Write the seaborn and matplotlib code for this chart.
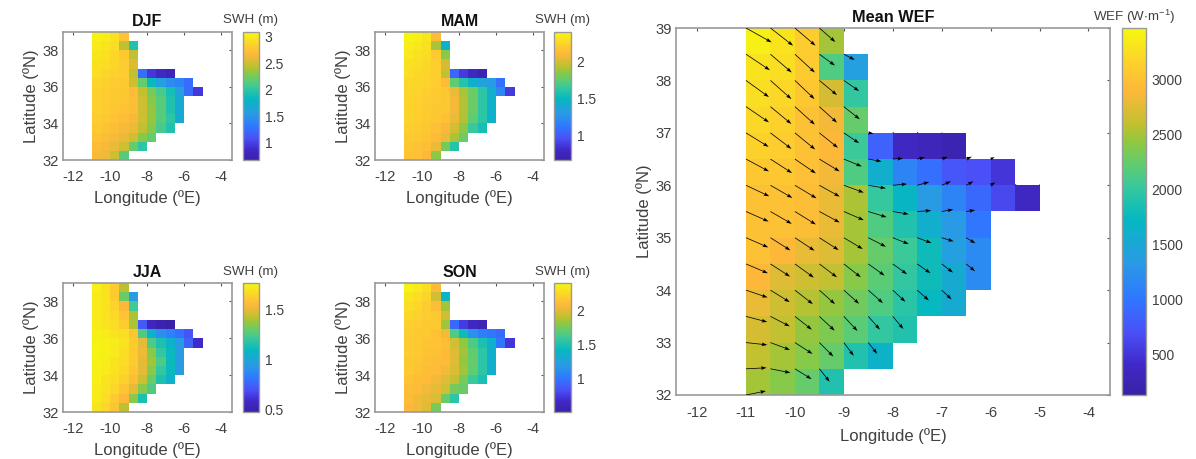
import matplotlib
matplotlib.use("Agg")
import matplotlib.pyplot as plt
import numpy as np
import seaborn as sns
from matplotlib.colors import LinearSegmentedColormap

FIG_W, FIG_H = 1196, 459
GRAY = "#9a9a9a"
TEXT = "#404040"

# rows run north to south (39N first), columns west to east from 11W, 0.5 deg cells
DJF = [
    [3.05, 3.03, 2.95, 2.75],
    [3.0, 2.98, 2.92, 2.45, 1.95],
    [2.98, 2.95, 2.9, 2.8, 2.45],
    [2.95, 2.92, 2.88, 2.82, 2.55],
    [2.92, 2.88, 2.85, 2.82, 2.45, 1.25, 0.95, 0.85, 0.78],
    [2.88, 2.85, 2.82, 2.8, 2.5, 2.2, 1.85, 1.6, 1.45, 1.4, 1.25],
    [2.85, 2.82, 2.8, 2.78, 2.7, 2.45, 2.25, 2.1, 1.9, 1.6, 1.25, 0.95],
    [2.85, 2.82, 2.8, 2.78, 2.72, 2.5, 2.3, 2.15, 1.95, 1.7],
    [2.85, 2.82, 2.78, 2.75, 2.72, 2.5, 2.35, 2.15, 1.95, 1.7],
    [2.82, 2.8, 2.75, 2.72, 2.65, 2.5, 2.35, 2.15, 2.0, 1.7],
    [2.8, 2.75, 2.72, 2.65, 2.6, 2.45, 2.3, 2.1, 1.95],
    [2.75, 2.72, 2.65, 2.6, 2.5, 2.3, 2.2],
    [2.7, 2.65, 2.6, 2.5, 2.2, 2.0],
    [2.65, 2.62, 2.5, 2.15],
]
MAM = [
    [2.38, 2.36, 2.32, 2.12],
    [2.35, 2.33, 2.3, 1.9, 1.45],
    [2.33, 2.3, 2.28, 2.2, 1.85],
    [2.3, 2.28, 2.26, 2.22, 2.0],
    [2.28, 2.26, 2.25, 2.22, 1.95, 1.05, 0.88, 0.78, 0.72],
    [2.26, 2.25, 2.24, 2.22, 2.12, 1.75, 1.6, 1.45, 1.35, 1.3, 1.1],
    [2.25, 2.24, 2.22, 2.2, 2.18, 2.05, 1.9, 1.78, 1.62, 1.42, 1.2, 0.88],
    [2.25, 2.23, 2.21, 2.2, 2.18, 2.08, 1.92, 1.78, 1.62, 1.45],
    [2.24, 2.22, 2.2, 2.18, 2.18, 2.08, 1.92, 1.78, 1.62, 1.45],
    [2.24, 2.22, 2.2, 2.18, 2.15, 2.05, 1.92, 1.75, 1.62, 1.45],
    [2.22, 2.2, 2.18, 2.15, 2.1, 2.0, 1.85, 1.65, 1.55],
    [2.2, 2.18, 2.16, 2.12, 2.05, 1.9, 1.78],
    [2.18, 2.16, 2.14, 2.05, 1.8, 1.6],
    [2.16, 2.15, 2.1, 1.85],
]
JJA = [
    [1.74, 1.7, 1.62, 1.42],
    [1.72, 1.7, 1.62, 1.3, 0.95],
    [1.72, 1.7, 1.65, 1.55, 1.22],
    [1.72, 1.7, 1.67, 1.6, 1.4],
    [1.72, 1.7, 1.68, 1.63, 1.4, 0.72, 0.55, 0.5, 0.48],
    [1.74, 1.72, 1.7, 1.68, 1.6, 1.25, 1.05, 0.9, 0.85, 0.8, 0.7],
    [1.75, 1.74, 1.72, 1.7, 1.62, 1.5, 1.25, 1.15, 1.05, 0.95, 0.75, 0.58],
    [1.75, 1.74, 1.72, 1.68, 1.62, 1.52, 1.35, 1.2, 1.1, 0.95],
    [1.75, 1.73, 1.7, 1.68, 1.62, 1.5, 1.38, 1.25, 1.1, 0.95],
    [1.74, 1.72, 1.7, 1.66, 1.6, 1.5, 1.35, 1.2, 1.1, 0.95],
    [1.74, 1.7, 1.68, 1.64, 1.57, 1.45, 1.3, 1.15, 1.05],
    [1.72, 1.7, 1.66, 1.6, 1.5, 1.35, 1.25],
    [1.72, 1.68, 1.62, 1.55, 1.35, 1.15],
    [1.7, 1.66, 1.6, 1.42],
]
SON = [
    [2.38, 2.34, 2.28, 2.1],
    [2.32, 2.28, 2.24, 1.95, 1.4],
    [2.28, 2.25, 2.2, 2.12, 1.85],
    [2.25, 2.22, 2.2, 2.18, 1.95],
    [2.22, 2.2, 2.18, 2.18, 1.85, 0.95, 0.75, 0.65, 0.58],
    [2.2, 2.18, 2.18, 2.15, 2.05, 1.65, 1.45, 1.15, 1.05, 1.0, 0.95],
    [2.2, 2.18, 2.16, 2.15, 2.12, 1.95, 1.82, 1.65, 1.5, 1.35, 1.0, 0.72],
    [2.2, 2.18, 2.15, 2.14, 2.1, 2.0, 1.85, 1.7, 1.55, 1.35],
    [2.18, 2.16, 2.14, 2.12, 2.1, 2.0, 1.82, 1.72, 1.55, 1.35],
    [2.18, 2.15, 2.12, 2.1, 2.05, 1.98, 1.85, 1.7, 1.55, 1.35],
    [2.15, 2.12, 2.1, 2.05, 2.0, 1.92, 1.75, 1.6, 1.5],
    [2.12, 2.1, 2.05, 2.02, 1.95, 1.75, 1.72],
    [2.1, 2.05, 2.02, 1.98, 1.72, 1.55],
    [2.08, 2.05, 2.0, 1.75],
]
WEF = [
    [3400, 3300, 3100, 2500],
    [3300, 3250, 3080, 2150, 1400],
    [3250, 3200, 3050, 2700, 2000],
    [3200, 3150, 3000, 2850, 2250],
    [3150, 3100, 3000, 2900, 2050, 850, 350, 300, 230],
    [3050, 3050, 2980, 2850, 2150, 1600, 1150, 950, 750, 700, 500],
    [3000, 3000, 2950, 2800, 2520, 2020, 1700, 1350, 1150, 900, 650, 350],
    [3000, 2990, 2950, 2800, 2500, 2150, 1900, 1600, 1350, 1000],
    [3000, 2900, 2800, 2750, 2500, 2250, 2050, 1800, 1400, 1200],
    [2900, 2750, 2650, 2600, 2400, 2200, 2000, 1800, 1550, 1200],
    [2800, 2650, 2550, 2450, 2300, 2150, 1950, 1750, 1550],
    [2700, 2600, 2450, 2350, 2200, 2000, 1900],
    [2600, 2500, 2400, 2250, 1900, 1650],
    [2500, 2400, 2250, 1900],
]

# arrow components on the grid nodes, 39N first, from 11W
WEF_U = [
    [77, 68, 62, 48],
    [72, 64, 60, 47, 33],
    [69, 63, 59, 53, 46],
    [69, 63, 60, 53, 48],
    [68, 63, 61, 56, 46, 16, 4, 4, 2],
    [69, 65, 63, 61, 54, 40, 31, 23, 18, 17, 12, 1, 1],
    [70, 66, 65, 61, 60, 53, 43, 36, 28, 22, 14, 4, 1],
    [68, 64, 63, 61, 60, 55, 48, 42, 35, 27],
    [67, 60, 59, 58, 57, 53, 48, 43, 36, 28],
    [66, 59, 57, 53, 51, 49, 43, 40, 34, 27],
    [65, 58, 54, 47, 46, 44, 38, 35, 30],
    [64, 58, 51, 46, 41, 35, 32],
    [64, 59, 53, 42, 30, 27],
    [62, 60, 50, 31],
    [60],
]
WEF_V = [
    [-43, -53, -53, -42],
    [-48, -55, -55, -34, -17],
    [-50, -56, -56, -44, -32],
    [-47, -52, -54, -48, -38],
    [-42, -48, -50, -45, -31, -2, 3, 3, 3],
    [-37, -42, -43, -37, -22, -7, 2, 5, 7, 7, 6, 0, 0],
    [-33, -38, -39, -34, -22, -9, 4, 10, 12, 12, 9, 4, 4],
    [-30, -37, -39, -33, -26, -17, -8, 3, 6, 4],
    [-29, -38, -39, -37, -34, -27, -19, -16, -11, -17],
    [-28, -38, -41, -40, -40, -35, -31, -28, -26, -22],
    [-22, -36, -42, -42, -41, -39, -35, -31, -28],
    [-17, -30, -40, -43, -44, -40, -38],
    [-7, -22, -34, -42, -40, -34],
    [3, -12, -31, -39],
    [12],
]

# parula-like colours
CMAP_STOPS = [
    (0.0, "#3a22a6"), (0.08, "#4028c8"), (0.17, "#4a50f8"), (0.264, "#2f78ff"),
    (0.36, "#2a9ae5"), (0.48, "#05b8c0"), (0.564, "#35c8a0"), (0.627, "#60cc70"),
    (0.69, "#90c840"), (0.736, "#c0c030"), (0.83, "#fdb83a"), (0.90, "#fdcf2e"),
    (1.0, "#f5f810"),
]

# name, rows, colour range, colourbar ticks, tick labels, panel box in pixels
PANELS = [
    ("DJF", DJF, 0.67, 3.09, [1, 1.5, 2, 2.5, 3], ["1", "1.5", "2", "2.5", "3"], (63, 32, 232, 160), (243, 259)),
    ("MAM", MAM, 0.67, 2.40, [1, 1.5, 2], ["1", "1.5", "2"], (375, 32, 544, 160), (554, 571)),
    ("JJA", JJA, 0.47, 1.77, [0.5, 1, 1.5], ["0.5", "1", "1.5"], (63, 283, 232, 412), (243, 259)),
    ("SON", SON, 0.51, 2.41, [1, 1.5, 2], ["1", "1.5", "2"], (375, 283, 544, 412), (554, 571)),
]


def pad_rows(rows, width):
    return np.array([list(r) + [np.nan] * (width - len(r)) for r in rows], dtype=float)


def px_axes(fig, left, top, right, bottom):
    return fig.add_axes([left / FIG_W, 1 - bottom / FIG_H, (right - left) / FIG_W, (bottom - top) / FIG_H])


def draw_map(ax, cax, rows, vmin, vmax, cmap, xlim, xticks, yticks, cticks, clabels, xpad, xlabelpad):
    sns.heatmap(pad_rows(rows, 12), ax=ax, cbar_ax=cax, cmap=cmap, vmin=vmin, vmax=vmax,
                xticklabels=False, yticklabels=False)
    # heatmap cells are counted from 11W and from 39N
    ax.set_xlim((xlim[0] + 11) * 2, (xlim[1] + 11) * 2)
    ax.set_ylim(14, 0)
    ax.set_xticks([(x + 11) * 2 for x in xticks], labels=[str(x) for x in xticks])
    ax.set_yticks([(39 - y) * 2 for y in yticks], labels=[str(y) for y in yticks])
    ax.tick_params(direction="in", length=2.5, width=0.8, top=True, right=True, color="#555555",
                   labelcolor=TEXT, labelsize=10.6, pad=3, labelrotation=0)
    ax.tick_params(axis="x", pad=xpad)
    ax.set_xlabel("Longitude (ºE)", fontsize=12, color=TEXT, labelpad=xlabelpad)
    ax.set_ylabel("Latitude (ºN)", fontsize=12, color=TEXT, labelpad=2.5)
    for s in ax.spines.values():
        s.set_visible(True)
        s.set_color(GRAY)
        s.set_linewidth(1.2)

    cbar = ax.collections[0].colorbar
    cbar.set_ticks(cticks, labels=clabels)
    cbar.outline.set_visible(True)
    cbar.outline.set_edgecolor(GRAY)
    cbar.outline.set_linewidth(1.0)
    cax.tick_params(direction="in", length=2, width=0.7, color="#555555", labelcolor=TEXT,
                    labelsize=10, pad=4)


sns.set_style("white")
plt.rcParams["font.family"] = ["Liberation Sans", "DejaVu Sans"]
plt.rcParams["mathtext.default"] = "regular"

cmap = LinearSegmentedColormap.from_list("parula", CMAP_STOPS, N=256)
fig = plt.figure(figsize=(FIG_W / 100, FIG_H / 100), dpi=100)

for name, rows, vmin, vmax, cticks, clabels, box, cbox in PANELS:
    ax = px_axes(fig, *box)
    cax = px_axes(fig, cbox[0], box[1], cbox[1], box[3])
    draw_map(ax, cax, rows, vmin, vmax, cmap, (-12.54, -3.42),
             [-12, -10, -8, -6, -4], [32, 34, 36, 38], cticks, clabels, 7, 4.5)
    ax.set_title(name, fontsize=11.5, fontweight="bold", color="#111111", pad=4)
    fig.text((cbox[0] + cbox[1]) / 2 / FIG_W, 1 - (box[1] - 11.5) / FIG_H, "SWH (m)",
             fontsize=9.6, color=TEXT, ha="center", va="center")

ax = px_axes(fig, 676, 28, 1110, 395)
cax = px_axes(fig, 1122, 28, 1146, 395)
draw_map(ax, cax, WEF, 135, 3470, cmap, (-12.43, -3.56),
         list(range(-12, -3)), list(range(32, 40)),
         [500, 1000, 1500, 2000, 2500, 3000], ["500", "1000", "1500", "2000", "2500", "3000"], 8, 6)
ax.set_title("Mean WEF", fontsize=11.7, fontweight="bold", color="#111111", pad=4)
fig.text(1134 / FIG_W, 1 - 16.5 / FIG_H, r"WEF (W$\cdot$m$^{-1}$)", fontsize=9.6, color=TEXT,
         ha="center", va="center")

u = pad_rows(WEF_U, 13)
v = pad_rows(WEF_V, 13)
node_x, node_y = np.meshgrid(np.arange(13), np.arange(15))
ax.quiver(node_x, node_y, np.ma.masked_invalid(u), np.ma.masked_invalid(v), angles="uv",
          scale_units="dots", scale=3, units="dots", width=0.75, headwidth=5, headlength=7.5,
          headaxislength=6.5, minlength=0.3, color="black", zorder=3)

fig.savefig("out.png", dpi=100)
